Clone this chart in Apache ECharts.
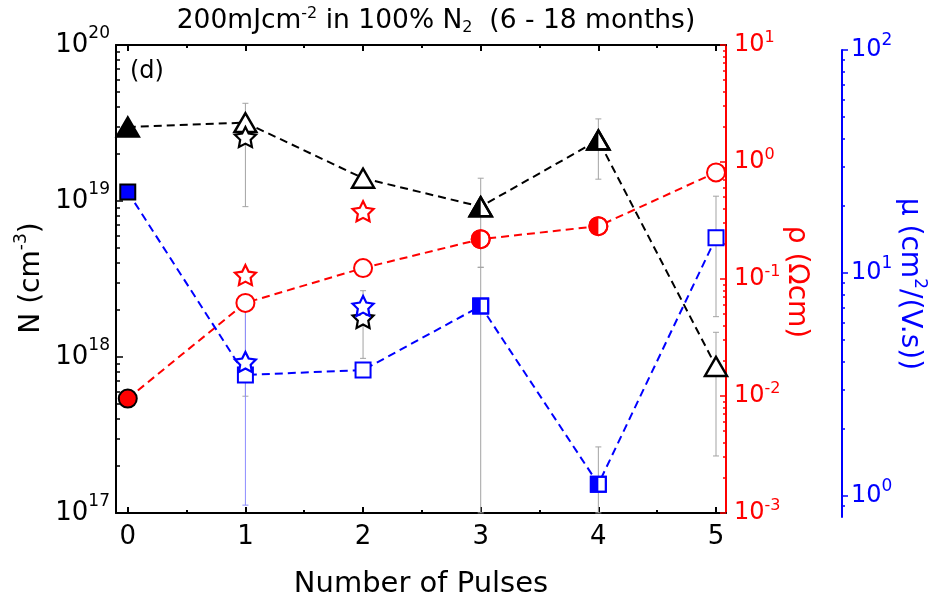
<!DOCTYPE html>
<html>
<head>
<meta charset="utf-8">
<script src="https://cdn.jsdelivr.net/npm/echarts@6/dist/echarts.min.js"></script>
<style>
html, body { margin: 0; padding: 0; background: #fff; }
#main { width: 932px; height: 600px; }
</style>
</head>
<body>
<div id="main"></div>
<script>
// values
var pulses = [0, 1, 2, 3, 4, 5];
var carrierN = [2.98e19, 3.18e19, 1.40e19, 9.2e18, 2.46e19, 8.7e17];   // cm^-3
var resistivity = [0.0095, 0.0625, 0.124, 0.219, 0.283, 0.815];       // Ohm cm
var mobility = [23.1, 3.49, 3.67, 7.11, 1.13, 14.4];                  // cm2/V.s
var markerFill = ['full', 'open', 'open', 'half', 'half', 'open'];

var starPulses = [1, 2];
var starN = [2.57e19, 1.78e18];
var starRho = [0.108, 0.379];
var starMu = [3.99, 7.11];

// [pulse, low, high]
var errN = [[1, 9.2e18, 4.23e19], [2, 9.8e17, 2.66e18], [3, 3.76e18, 1.40e19], [4, 1.38e19, 3.36e19], [5, 2.32e17, 1.44e18]];
var errRho = [[1, 0.00996, 0.066]];
var errMu = [[3, 0.84, 10.6], [4, 0.84, 1.66], [5, 6.37, 22.1]];
var errMuWide = [[1, 0.91, 7.33]];

var xTicks = [0, 1, 2, 3, 4, 5];
var xMinor = [0.5, 1.5, 2.5, 3.5, 4.5];
var nTicks = [1e17, 1e18, 1e19, 1e20];
var rhoTicks = [1e-3, 1e-2, 1e-1, 1e0, 1e1];
var muTicks = [1, 10, 100];

window.onload = function () {
    var myChart = echarts.init(document.getElementById('main'));
    var FONT = 'DejaVu Sans';
    var RED = '#ff0000', BLUE = '#0000ff', BLACK = '#000000', GREY = '#a3a3a3';
    var STAR = 'path://M50 0L64.69 29.77L97.55 34.55L73.78 57.73L79.39 90.45L50 75L20.61 90.45L26.22 57.73L2.45 34.55L35.31 29.77Z';
    var TRI = [22, 19], CIRC = 18, SQ = 15;

    function decadeMinors(lo, hi) {
        var out = [];
        for (var e = lo; e < hi; e++) {
            for (var k = 2; k <= 9; k++) out.push(k * Math.pow(10, e));
        }
        return out;
    }
    function powLabel(v) {
        return '10{sup|' + Math.round(Math.log10(v)) + '}';
    }
    function supRich(size, raise, color) {
        return { sup: { fontSize: size, padding: [0, 0, raise, 0], fontFamily: FONT, color: color } };
    }

    // every marker is drawn here, so open / full / half all go through one path
    function markerSeries(values, xi, yi, kind, color, edge, bw) {
        var w = kind === 'triangle' ? TRI[0] : (kind === 'circle' ? CIRC : SQ);
        var h = kind === 'triangle' ? TRI[1] : w;
        return {
            type: 'custom', xAxisIndex: xi, yAxisIndex: yi, z: 10, silent: true,
            encode: { x: 0, y: 1 },
            data: pulses.map(function (p, i) { return [p, values[i], i]; }),
            renderItem: function (params, api) {
                var c = api.coord([api.value(0), api.value(1)]);
                var fill = markerFill[api.value(2)];
                var x = c[0], y = c[1];
                var outline, half;
                if (kind === 'rect') {
                    outline = { type: 'rect', shape: { x: x - w / 2, y: y - h / 2, width: w, height: h } };
                    half = { type: 'rect', shape: { x: x - w / 2, y: y - h / 2, width: w / 2, height: h } };
                } else if (kind === 'circle') {
                    outline = { type: 'circle', shape: { cx: x, cy: y, r: w / 2 } };
                    half = { type: 'sector', shape: { cx: x, cy: y, r0: 0, r: w / 2, startAngle: Math.PI / 2, endAngle: Math.PI * 1.5 } };
                } else {
                    outline = { type: 'polygon', shape: { points: [[x, y - h / 2], [x - w / 2, y + h / 2], [x + w / 2, y + h / 2]] } };
                    half = { type: 'polygon', shape: { points: [[x, y - h / 2], [x - w / 2, y + h / 2], [x, y + h / 2]] } };
                }
                if (fill === 'full') {
                    outline.style = { fill: color, stroke: edge, lineWidth: bw };
                    return outline;
                }
                outline.style = { fill: '#fff', stroke: color, lineWidth: bw };
                if (fill === 'open') return outline;
                half.style = { fill: color };
                return { type: 'group', children: [outline, half, {
                    type: outline.type, shape: outline.shape, style: { fill: null, stroke: color, lineWidth: bw }
                }] };
            }
        };
    }
    function errorBar(color) {
        return function (params, api) {
            var x = api.value(0);
            var lo = api.coord([x, api.value(1)]);
            var hi = api.coord([x, api.value(2)]);
            var cap = 3, st = { stroke: color, lineWidth: 1 };
            return { type: 'group', children: [
                { type: 'line', shape: { x1: lo[0], y1: lo[1], x2: hi[0], y2: hi[1] }, style: st },
                { type: 'line', shape: { x1: lo[0] - cap, y1: lo[1], x2: lo[0] + cap, y2: lo[1] }, style: st },
                { type: 'line', shape: { x1: hi[0] - cap, y1: hi[1], x2: hi[0] + cap, y2: hi[1] }, style: st }
            ] };
        };
    }
    function errSeries(data, xi, yi, color) {
        return { type: 'custom', xAxisIndex: xi, yAxisIndex: yi, z: 1, silent: true,
                 renderItem: errorBar(color), encode: { x: 0, y: [1, 2] }, data: data };
    }
    function lineSeries(values, xi, yi, color) {
        return {
            type: 'line', xAxisIndex: xi, yAxisIndex: yi, z: 3, symbol: 'none', silent: true,
            lineStyle: { color: color, width: 2, type: [8, 5] },
            data: pulses.map(function (p, i) { return [p, values[i]]; })
        };
    }
    function starSeries(values, xi, yi, color) {
        return {
            type: 'scatter', xAxisIndex: xi, yAxisIndex: yi, symbol: STAR, symbolSize: [21, 20], z: 12,
            itemStyle: { color: '#fff', borderColor: color, borderWidth: 2.2, opacity: 1 },
            data: starPulses.map(function (p, i) { return [p, values[i]]; })
        };
    }

    var xRange = { type: 'value', min: -0.1, max: 5.085 };
    function xAxis(gridIndex, pos, line, ticks, len, labels) {
        return Object.assign({}, xRange, {
            gridIndex: gridIndex, position: pos,
            axisLine: { show: line, onZero: false, lineStyle: { color: BLACK, width: 2 } },
            axisTick: { show: true, inside: true, customValues: ticks, length: len, lineStyle: { color: BLACK, width: 2 } },
            axisLabel: labels ? { customValues: labels, fontFamily: FONT, fontSize: 26, color: BLACK, margin: 11 } : { show: false },
            splitLine: { show: false }
        });
    }
    function logAxis(gridIndex, pos, min, max, color, line, ticks, len, inside, label, offset) {
        return {
            type: 'log', logBase: 10, gridIndex: gridIndex, position: pos, min: min, max: max, offset: offset || 0,
            axisLine: { show: line, onZero: false, lineStyle: { color: color, width: 2 } },
            axisTick: { show: true, inside: inside, customValues: ticks, length: len, lineStyle: { color: color, width: 1.5 } },
            axisLabel: label ? Object.assign({ customValues: ticks, formatter: powLabel, fontFamily: FONT, color: color }, label) : { show: false },
            splitLine: { show: false }
        };
    }

    var option = {
        animation: false,
        backgroundColor: '#fff',
        title: {
            text: '200mJcm{sup|-2} in 100% N{sub|2}  (6 - 18 months)',
            left: 431, top: 1, textAlign: 'center',
            textStyle: {
                fontFamily: FONT, fontSize: 26.5, fontWeight: 'normal', color: BLACK,
                rich: {
                    sup: { fontSize: 16, padding: [0, 0, 14, 0], fontFamily: FONT, color: BLACK },
                    sub: { fontSize: 16, padding: [14, 0, 0, 0], fontFamily: FONT, color: BLACK }
                }
            }
        },
        grid: [
            { left: 116, right: 206, top: 45, bottom: 87, outerBoundsMode: 'none', containLabel: false },
            { left: 116, right: 206, top: 50, bottom: 83, outerBoundsMode: 'none', containLabel: false }
        ],
        xAxis: [
            Object.assign(xAxis(0, 'bottom', true, xTicks, 6, xTicks), {
                name: 'Number of Pulses', nameLocation: 'middle', nameGap: 57,
                nameTextStyle: { fontFamily: FONT, fontSize: 29, color: BLACK }
            }),
            xAxis(0, 'top', true, xTicks, 6, null),
            xAxis(0, 'bottom', false, xMinor, 3, null),
            xAxis(0, 'top', false, xMinor, 3, null),
            Object.assign({}, xRange, { gridIndex: 1, show: false })
        ],
        yAxis: [
            logAxis(0, 'left', 1e17, 1e20, BLACK, true, nTicks, 7, true,
                { fontSize: 26, margin: 6, rich: supRich(17, 23, BLACK) }),
            logAxis(0, 'right', 1e-3, 1e1, RED, true, rhoTicks, 6, true,
                { fontSize: 24, margin: 8, rich: supRich(16, 15, RED) }),
            logAxis(0, 'left', 1e17, 1e20, BLACK, false, decadeMinors(17, 20), 4, true, null),
            logAxis(0, 'right', 1e-3, 1e1, RED, false, decadeMinors(-3, 1), 3, true, null),
            logAxis(1, 'right', 0.805, 100, BLUE, true, muTicks, 6, false,
                { fontSize: 24, margin: 9, rich: supRich(17, 18, BLUE) }, 116),
            logAxis(1, 'right', 0.805, 100, BLUE, false, decadeMinors(-1, 2), 3, false, null, 116)
        ],
        graphic: [
            { type: 'text', left: 130, top: 60, style: { text: '(d)', fontFamily: FONT, fontSize: 24, fill: BLACK } },
            { type: 'text', x: 32, y: 278, rotation: Math.PI / 2,
              style: { text: 'N (cm{sup|-3})', fontFamily: FONT, fontSize: 28, fill: BLACK, align: 'center', verticalAlign: 'middle',
                       rich: { sup: { fontFamily: FONT, fontSize: 17, fill: BLACK, padding: [0, 0, 20, 0] } } } },
            { type: 'text', x: 796, y: 282, rotation: -Math.PI / 2,
              style: { text: 'ρ (Ωcm)', fontFamily: FONT, fontSize: 28, fill: RED, align: 'center', verticalAlign: 'middle' } },
            { type: 'text', x: 909, y: 284, rotation: -Math.PI / 2,
              style: { text: 'μ (cm{sup|2}/(V.s))', fontFamily: FONT, fontSize: 28, fill: BLUE, align: 'center', verticalAlign: 'middle',
                       rich: { sup: { fontFamily: FONT, fontSize: 17, fill: BLUE, padding: [0, 0, 20, 0] } } } }
        ],
        series: [
            errSeries(errN, 0, 0, GREY),
            errSeries(errRho, 0, 1, GREY),
            errSeries(errMu, 4, 4, GREY),
            errSeries(errMuWide, 4, 4, '#8c8cff'),
            lineSeries(carrierN, 0, 0, BLACK),
            lineSeries(resistivity, 0, 1, RED),
            lineSeries(mobility, 4, 4, BLUE),
            markerSeries(carrierN, 0, 0, 'triangle', BLACK, BLACK, 2.5),
            markerSeries(resistivity, 0, 1, 'circle', RED, BLACK, 2),
            markerSeries(mobility, 4, 4, 'rect', BLUE, BLACK, 2),
            starSeries(starN, 0, 0, BLACK),
            starSeries(starRho, 0, 1, RED),
            starSeries(starMu, 4, 4, BLUE)
        ]
    };

    myChart.setOption(option);
};
</script>
</body>
</html>
